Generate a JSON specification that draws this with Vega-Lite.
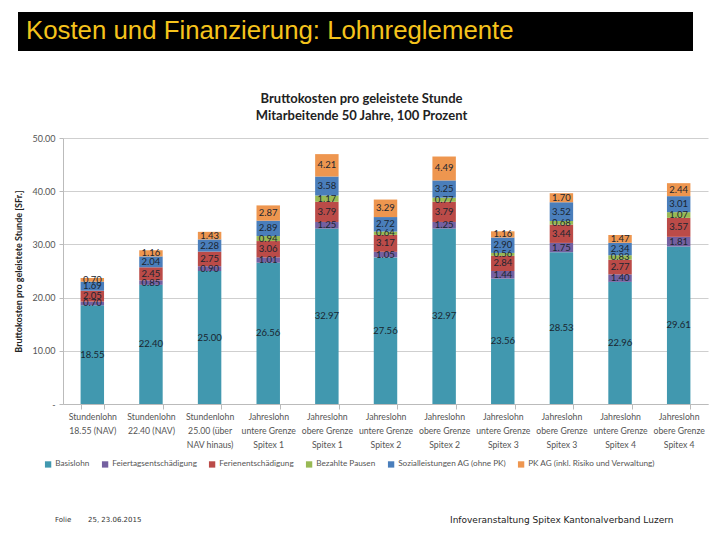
{
  "$schema": "https://vega.github.io/schema/vega-lite/v6.json",
  "padding": {"top": 12, "left": 13, "right": 4, "bottom": 0},
  "background": "white",
  "spacing": 42,
  "config": {"view": {"stroke": null}, "font": "Lato"},
  "vconcat": [
    {
      "spacing": 4,
      "hconcat": [
        {
          "width": 1, "height": 1,
          "data": {"values": [{}]},
          "mark": {"type": "point", "size": 0, "opacity": 0, "strokeWidth": 0}
        },
        {
          "width": 675,
          "height": 39,
          "view": {"fill": "black", "stroke": null},
          "data": {"values": [{"t": "Kosten und Finanzierung: Lohnreglemente"}]},
          "mark": {"type": "text", "align": "left", "baseline": "middle", "dx": 8, "dy": -1, "fontSize": 25.8, "font": "Liberation Sans", "color": "#F5C31C"},
          "encoding": {"text": {"field": "t"}, "x": {"value": 0}}
        }
      ]
    },
    {
      "spacing": 0,
      "hconcat": [
        {
          "width": 1, "height": 1,
          "data": {"values": [{}]},
          "mark": {"type": "point", "size": 0, "opacity": 0, "strokeWidth": 0}
        },
        {
          "width": 645,
          "height": 266,
          "title": {
            "text": ["Bruttokosten pro geleistete Stunde", "Mitarbeitende 50 Jahre, 100  Prozent"],
            "fontSize": 13, "fontWeight": "bold", "font": "Lato", "lineHeight": 17,
            "anchor": "middle", "frame": "group", "offset": 11, "dx": -24, "color": "#222222"
          },
          "data": {"values": [
            {"cat": "Stundenlohn\n18.55 (NAV)", "k": "Basislohn", "v": 18.55},
            {"cat": "Stundenlohn\n18.55 (NAV)", "k": "Feiertagsentschädigung", "v": 0.70},
            {"cat": "Stundenlohn\n18.55 (NAV)", "k": "Ferienentschädigung", "v": 2.05},
            {"cat": "Stundenlohn\n18.55 (NAV)", "k": "Sozialleistungen AG (ohne PK)", "v": 1.69},
            {"cat": "Stundenlohn\n18.55 (NAV)", "k": "PK AG (inkl. Risiko und Verwaltung)", "v": 0.70},
            {"cat": "Stundenlohn\n22.40 (NAV)", "k": "Basislohn", "v": 22.40},
            {"cat": "Stundenlohn\n22.40 (NAV)", "k": "Feiertagsentschädigung", "v": 0.85},
            {"cat": "Stundenlohn\n22.40 (NAV)", "k": "Ferienentschädigung", "v": 2.45},
            {"cat": "Stundenlohn\n22.40 (NAV)", "k": "Sozialleistungen AG (ohne PK)", "v": 2.04},
            {"cat": "Stundenlohn\n22.40 (NAV)", "k": "PK AG (inkl. Risiko und Verwaltung)", "v": 1.16},
            {"cat": "Stundenlohn\n25.00 (über\nNAV hinaus)", "k": "Basislohn", "v": 25.00},
            {"cat": "Stundenlohn\n25.00 (über\nNAV hinaus)", "k": "Feiertagsentschädigung", "v": 0.90},
            {"cat": "Stundenlohn\n25.00 (über\nNAV hinaus)", "k": "Ferienentschädigung", "v": 2.75},
            {"cat": "Stundenlohn\n25.00 (über\nNAV hinaus)", "k": "Sozialleistungen AG (ohne PK)", "v": 2.28},
            {"cat": "Stundenlohn\n25.00 (über\nNAV hinaus)", "k": "PK AG (inkl. Risiko und Verwaltung)", "v": 1.43},
            {"cat": "Jahreslohn\nuntere Grenze\nSpitex 1", "k": "Basislohn", "v": 26.56},
            {"cat": "Jahreslohn\nuntere Grenze\nSpitex 1", "k": "Feiertagsentschädigung", "v": 1.01},
            {"cat": "Jahreslohn\nuntere Grenze\nSpitex 1", "k": "Ferienentschädigung", "v": 3.06},
            {"cat": "Jahreslohn\nuntere Grenze\nSpitex 1", "k": "Bezahlte Pausen", "v": 0.94},
            {"cat": "Jahreslohn\nuntere Grenze\nSpitex 1", "k": "Sozialleistungen AG (ohne PK)", "v": 2.89},
            {"cat": "Jahreslohn\nuntere Grenze\nSpitex 1", "k": "PK AG (inkl. Risiko und Verwaltung)", "v": 2.87},
            {"cat": "Jahreslohn\nobere Grenze\nSpitex 1", "k": "Basislohn", "v": 32.97},
            {"cat": "Jahreslohn\nobere Grenze\nSpitex 1", "k": "Feiertagsentschädigung", "v": 1.25},
            {"cat": "Jahreslohn\nobere Grenze\nSpitex 1", "k": "Ferienentschädigung", "v": 3.79},
            {"cat": "Jahreslohn\nobere Grenze\nSpitex 1", "k": "Bezahlte Pausen", "v": 1.17},
            {"cat": "Jahreslohn\nobere Grenze\nSpitex 1", "k": "Sozialleistungen AG (ohne PK)", "v": 3.58},
            {"cat": "Jahreslohn\nobere Grenze\nSpitex 1", "k": "PK AG (inkl. Risiko und Verwaltung)", "v": 4.21},
            {"cat": "Jahreslohn\nuntere Grenze\nSpitex 2", "k": "Basislohn", "v": 27.56},
            {"cat": "Jahreslohn\nuntere Grenze\nSpitex 2", "k": "Feiertagsentschädigung", "v": 1.05},
            {"cat": "Jahreslohn\nuntere Grenze\nSpitex 2", "k": "Ferienentschädigung", "v": 3.17},
            {"cat": "Jahreslohn\nuntere Grenze\nSpitex 2", "k": "Bezahlte Pausen", "v": 0.64},
            {"cat": "Jahreslohn\nuntere Grenze\nSpitex 2", "k": "Sozialleistungen AG (ohne PK)", "v": 2.72},
            {"cat": "Jahreslohn\nuntere Grenze\nSpitex 2", "k": "PK AG (inkl. Risiko und Verwaltung)", "v": 3.29},
            {"cat": "Jahreslohn\nobere Grenze\nSpitex 2", "k": "Basislohn", "v": 32.97},
            {"cat": "Jahreslohn\nobere Grenze\nSpitex 2", "k": "Feiertagsentschädigung", "v": 1.25},
            {"cat": "Jahreslohn\nobere Grenze\nSpitex 2", "k": "Ferienentschädigung", "v": 3.79},
            {"cat": "Jahreslohn\nobere Grenze\nSpitex 2", "k": "Bezahlte Pausen", "v": 0.77},
            {"cat": "Jahreslohn\nobere Grenze\nSpitex 2", "k": "Sozialleistungen AG (ohne PK)", "v": 3.25},
            {"cat": "Jahreslohn\nobere Grenze\nSpitex 2", "k": "PK AG (inkl. Risiko und Verwaltung)", "v": 4.49},
            {"cat": "Jahreslohn\nuntere Grenze\nSpitex 3", "k": "Basislohn", "v": 23.56},
            {"cat": "Jahreslohn\nuntere Grenze\nSpitex 3", "k": "Feiertagsentschädigung", "v": 1.44},
            {"cat": "Jahreslohn\nuntere Grenze\nSpitex 3", "k": "Ferienentschädigung", "v": 2.84},
            {"cat": "Jahreslohn\nuntere Grenze\nSpitex 3", "k": "Bezahlte Pausen", "v": 0.56},
            {"cat": "Jahreslohn\nuntere Grenze\nSpitex 3", "k": "Sozialleistungen AG (ohne PK)", "v": 2.90},
            {"cat": "Jahreslohn\nuntere Grenze\nSpitex 3", "k": "PK AG (inkl. Risiko und Verwaltung)", "v": 1.16},
            {"cat": "Jahreslohn\nobere Grenze\nSpitex 3", "k": "Basislohn", "v": 28.53},
            {"cat": "Jahreslohn\nobere Grenze\nSpitex 3", "k": "Feiertagsentschädigung", "v": 1.75},
            {"cat": "Jahreslohn\nobere Grenze\nSpitex 3", "k": "Ferienentschädigung", "v": 3.44},
            {"cat": "Jahreslohn\nobere Grenze\nSpitex 3", "k": "Bezahlte Pausen", "v": 0.68},
            {"cat": "Jahreslohn\nobere Grenze\nSpitex 3", "k": "Sozialleistungen AG (ohne PK)", "v": 3.52},
            {"cat": "Jahreslohn\nobere Grenze\nSpitex 3", "k": "PK AG (inkl. Risiko und Verwaltung)", "v": 1.70},
            {"cat": "Jahreslohn\nuntere Grenze\nSpitex 4", "k": "Basislohn", "v": 22.96},
            {"cat": "Jahreslohn\nuntere Grenze\nSpitex 4", "k": "Feiertagsentschädigung", "v": 1.40},
            {"cat": "Jahreslohn\nuntere Grenze\nSpitex 4", "k": "Ferienentschädigung", "v": 2.77},
            {"cat": "Jahreslohn\nuntere Grenze\nSpitex 4", "k": "Bezahlte Pausen", "v": 0.83},
            {"cat": "Jahreslohn\nuntere Grenze\nSpitex 4", "k": "Sozialleistungen AG (ohne PK)", "v": 2.34},
            {"cat": "Jahreslohn\nuntere Grenze\nSpitex 4", "k": "PK AG (inkl. Risiko und Verwaltung)", "v": 1.47},
            {"cat": "Jahreslohn\nobere Grenze\nSpitex 4", "k": "Basislohn", "v": 29.61},
            {"cat": "Jahreslohn\nobere Grenze\nSpitex 4", "k": "Feiertagsentschädigung", "v": 1.81},
            {"cat": "Jahreslohn\nobere Grenze\nSpitex 4", "k": "Ferienentschädigung", "v": 3.57},
            {"cat": "Jahreslohn\nobere Grenze\nSpitex 4", "k": "Bezahlte Pausen", "v": 1.07},
            {"cat": "Jahreslohn\nobere Grenze\nSpitex 4", "k": "Sozialleistungen AG (ohne PK)", "v": 3.01},
            {"cat": "Jahreslohn\nobere Grenze\nSpitex 4", "k": "PK AG (inkl. Risiko und Verwaltung)", "v": 2.44}
          ]},
          "transform": [
            {"calculate": "indexof(['Basislohn','Feiertagsentschädigung','Ferienentschädigung','Bezahlte Pausen','Sozialleistungen AG (ohne PK)','PK AG (inkl. Risiko und Verwaltung)'], datum.k)", "as": "o"},
            {"stack": "v", "groupby": ["cat"], "sort": [{"field": "o", "order": "ascending"}], "as": ["v0", "v1"]},
            {"calculate": "(datum.v0 + datum.v1) / 2", "as": "mid"}
          ],
          "encoding": {
            "x": {
              "field": "cat", "type": "nominal", "sort": null,
              "scale": {"paddingInner": 0.6, "paddingOuter": 0.3},
              "axis": {
                "title": null, "labelExpr": "split(datum.label, '\\n')", "labelAngle": 0,
                "labelFontSize": 8.7, "labelColor": "#555555", "labelLineHeight": 14,
                "tickBand": "extent", "tickSize": 5, "tickColor": "#bbbbbb", "domainColor": "#bbbbbb",
                "labelPadding": 3, "labelBaseline": "top"
              }
            }
          },
          "layer": [
            {
              "mark": {"type": "bar"},
              "encoding": {
                "y": {
                  "field": "v0", "type": "quantitative", "scale": {"domain": [0, 50]},
                  "axis": {
                    "title": "Bruttokosten pro geleistete Stunde [SFr.]", "titleFontSize": 9,
                    "titleFontWeight": "bold", "titleColor": "#222222",
                    "values": [0, 5, 10, 15, 20, 25, 30, 35, 40, 45, 50],
                    "labelExpr": "datum.value == 0 ? '-' : format(datum.value, '.2f')",
                    "labelFontSize": 9, "labelColor": "#555555", "gridColor": "#cfcfcf",
                    "domainColor": "#bbbbbb", "tickColor": "#bbbbbb", "tickSize": 4,
                    "labelPadding": 4, "titlePadding": 8
                  }
                },
                "y2": {"field": "v1"},
                "color": {
                  "field": "k", "type": "nominal",
                  "scale": {
                    "domain": ["Basislohn", "Feiertagsentschädigung", "Ferienentschädigung", "Bezahlte Pausen", "Sozialleistungen AG (ohne PK)", "PK AG (inkl. Risiko und Verwaltung)"],
                    "range": ["#4198AF", "#7460A0", "#BB4B48", "#98B954", "#4A7EBB", "#EE964F"]
                  },
                  "legend": {
                    "title": null, "orient": "none", "legendX": 31, "legendY": 448,
                    "direction": "horizontal", "symbolType": "square", "symbolSize": 40,
                    "labelFontSize": 8.2, "labelColor": "#555555", "columnPadding": 11,
                    "labelOffset": 3, "symbolStrokeWidth": 0
                  }
                }
              }
            },
            {
              "mark": {"type": "text", "fontSize": 9.5, "color": "#1a2530"},
              "encoding": {
                "y": {"field": "mid", "type": "quantitative"},
                "text": {"field": "v", "type": "quantitative", "format": ".2f"}
              }
            }
          ]
        }
      ]
    },
    {
      "width": 680,
      "height": 58,
      "layer": [
        {
          "data": {"values": [{"t": "Folie"}]},
          "mark": {"type": "text", "align": "left", "baseline": "middle", "dx": 42, "fontSize": 7, "font": "DejaVu Sans", "color": "#333333"},
          "encoding": {"text": {"field": "t"}, "x": {"value": 0}}
        },
        {
          "data": {"values": [{"t": "25, 23.06.2015"}]},
          "mark": {"type": "text", "align": "left", "baseline": "middle", "dx": 75, "fontSize": 7, "font": "DejaVu Sans", "color": "#333333"},
          "encoding": {"text": {"field": "t"}, "x": {"value": 0}}
        },
        {
          "data": {"values": [{"t": "Infoveranstaltung Spitex Kantonalverband Luzern"}]},
          "mark": {"type": "text", "align": "left", "baseline": "middle", "dx": 437, "fontSize": 9, "font": "DejaVu Sans", "color": "#222222"},
          "encoding": {"text": {"field": "t"}, "x": {"value": 0}}
        }
      ]
    }
  ]
}
